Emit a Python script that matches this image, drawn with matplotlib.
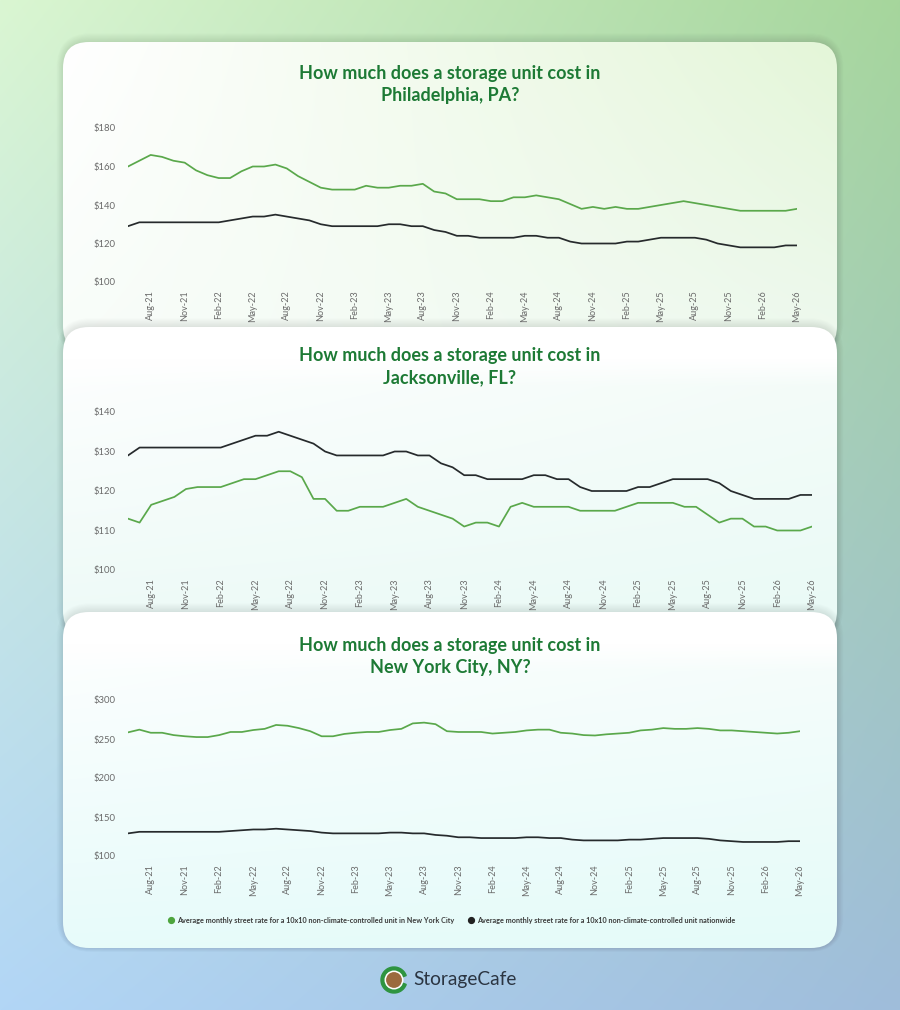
#!/usr/bin/env python3
"""
StorageCafe style panel: monthly street rate of a 10x10 non-climate-controlled
unit in three cities vs. the national average, Jun-21 .. May-26.
"""
import numpy as np
import matplotlib.pyplot as plt
from matplotlib.colors import to_rgb
from matplotlib.lines import Line2D
from matplotlib.patches import Circle, FancyBboxPatch, Wedge

# ---- data (monthly, Jun-21 .. May-26) ----
TICK_LABELS = ["Aug-21", "Nov-21", "Feb-22", "May-22", "Aug-22", "Nov-22", "Feb-23",
               "May-23", "Aug-23", "Nov-23", "Feb-24", "May-24", "Aug-24", "Nov-24",
               "Feb-25", "May-25", "Aug-25", "Nov-25", "Feb-26", "May-26"]

nationwide = [129, 131, 131, 131, 131, 131, 131, 131, 131,
              132, 133, 134, 134, 135, 134, 133, 132, 130, 129,
              129, 129, 129, 129, 130, 130, 129, 129, 127, 126, 124, 124,
              123, 123, 123, 123, 124, 124, 123, 123, 121, 120, 120, 120,
              120, 121, 121, 122, 123, 123, 123, 123, 122, 120, 119, 118,
              118, 118, 118, 119, 119]

philadelphia = [160, 163, 166, 165, 163, 162, 158,
                155.5, 154, 154, 157.5, 160, 160, 161, 159, 155, 152, 149, 148,
                148, 148, 150, 149, 149, 150, 150, 151, 147, 146, 143, 143,
                143, 142, 142, 144, 144, 145, 144, 143, 140.5, 138, 139, 138,
                139, 138, 138, 139, 140, 141, 142, 141, 140, 139, 138, 137,
                137, 137, 137, 137, 138]

jacksonville = [113, 112, 116.5, 117.5, 118.5, 120.5, 121,
                121, 121, 122, 123, 123, 124, 125, 125, 123.5, 118, 118, 115,
                115, 116, 116, 116, 117, 118, 116, 115, 114, 113, 111, 112,
                112, 111, 116, 117, 116, 116, 116, 116, 115, 115, 115, 115,
                116, 117, 117, 117, 117, 116, 116, 114, 112, 113, 113, 111,
                111, 110, 110, 110, 111]

new_york = [258.5, 262, 258, 258, 255, 253.5, 252.5,
            252.5, 255, 259, 259, 261.5, 263, 268, 267, 264, 260, 253.5, 253.5,
            256.5, 258, 259, 259, 261.5, 263, 270, 271, 269, 260, 259, 259,
            259, 257, 258, 259, 261, 262, 262, 258, 257, 255, 254.5, 256,
            257, 258, 261, 262, 264, 263, 263, 264, 263, 261, 261, 260,
            259, 258, 257, 258, 260]

PANELS = [
    ("Philadelphia, PA?", philadelphia, [100, 120, 140, 160, 180]),
    ("Jacksonville, FL?", jacksonville, [100, 110, 120, 130, 140]),
    ("New York City, NY?", new_york, [100, 150, 200, 250, 300]),
]

# ---- style ----
W, H = 900, 1010
GREEN_LINE = "#5aa84b"
BLACK_LINE = "#262a2c"
TITLE_GREEN = "#1d7a35"
TICK_GRAY = "#6a6a6a"
FONT = ["Lato", "DejaVu Sans"]

# pixel boxes: (x0, x1, y_top, y_bottom) of each plot area
AX_BOXES = [(128, 797, 128, 282), (128, 812, 412, 570), (128, 800, 700, 856)]
TITLE_Y = [(73, 95), (355, 378), (646, 668)]
CARDS = [  # x, y_top, height, corner colours TL, TR, BL, BR, white top band
    (63, 42, 310, ("#ffffff", "#e4f6d8", "#f8fdf9", "#eef9ef"), 0),
    (63, 327, 310, ("#ffffff", "#f6fcf9", "#edfaf7", "#e9faf6"), 45),
    (63, 612, 336, ("#ffffff", "#f8fdfb", "#e7fbfa", "#e5fbf9"), 45),
]


def bilinear(h, w, tl, tr, bl, br):
    tl, tr, bl, br = (np.array(to_rgb(c)) for c in (tl, tr, bl, br))
    u = np.linspace(0, 1, w)[None, :, None]
    v = np.linspace(0, 1, h)[:, None, None]
    top = tl * (1 - u) + tr * u
    bot = bl * (1 - u) + br * u
    return top * (1 - v) + bot * v


def draw_card(bg, x, y, h, colors, band):
    w = 900 - 2 * x
    # soft shadow
    for i in range(1, 9):
        sh = FancyBboxPatch((x - i * 0.8, y - i * 1.1), w + i * 1.6, h + i * 1.6,
                            boxstyle="round,pad=0,rounding_size=%d" % (26 + i),
                            fc="black", ec="none", alpha=0.012)
        bg.add_patch(sh)
    card = FancyBboxPatch((x, y), w, h, boxstyle="round,pad=0,rounding_size=26",
                          fc="none", ec="none")
    bg.add_patch(card)
    img = bilinear(int(h), int(w), *colors)
    if band:
        fade = np.clip((np.arange(int(h)) - band * 0.7) / (band * 0.6), 0, 1)[:, None, None]
        img = 1.0 * (1 - fade) + img * fade
    im = bg.imshow(img, extent=(x, x + w, y + h, y), aspect="auto", zorder=1)
    im.set_clip_path(card)
    card.set_zorder(1)


fig = plt.figure(figsize=(W / 100, H / 100), dpi=100)

bg = fig.add_axes([0, 0, 1, 1], zorder=-10)
bg.set_xlim(0, W)
bg.set_ylim(H, 0)
bg.axis("off")
bg.imshow(bilinear(H, W, "#daf6d2", "#a6d69c", "#b2d6f6", "#9fbddb"),
          extent=(0, W, H, 0), aspect="auto", zorder=0)

for x, y, h, colors, band in CARDS:
    draw_card(bg, x, y, h, colors, band)

x_idx = np.arange(len(nationwide))
tick_pos = np.arange(2, len(nationwide), 3)

axes = []
for (city, series, yticks), (x0, x1, yt, yb), (t1, t2) in zip(PANELS, AX_BOXES, TITLE_Y):
    ax = fig.add_axes([x0 / W, 1 - yb / H, (x1 - x0) / W, (yb - yt) / H])
    ax.patch.set_alpha(0)
    ax.plot(x_idx, series, color=GREEN_LINE, lw=1.25, solid_joinstyle="round")
    ax.plot(x_idx, nationwide, color=BLACK_LINE, lw=1.25, solid_joinstyle="round")
    ax.set_xlim(0, len(nationwide) - 1)
    ax.set_ylim(yticks[0], yticks[-1])
    ax.set_yticks(yticks)
    ax.set_yticklabels([f"${v}" for v in yticks], fontsize=6.8, color=TICK_GRAY,
                       family=FONT)
    ax.set_xticks(tick_pos)
    ax.set_xticklabels(TICK_LABELS, rotation=90, fontsize=6.5, color=TICK_GRAY,
                       family=FONT)
    ax.tick_params(axis="y", length=0, pad=9)
    ax.tick_params(axis="x", length=0, pad=6)
    for s in ax.spines.values():
        s.set_visible(False)

    fig.text(450 / W, 1 - t1 / H, "How much does a storage unit cost in",
             ha="center", va="center", fontsize=13, fontweight="bold",
             color=TITLE_GREEN, family=FONT)
    fig.text(450 / W, 1 - t2 / H, city, ha="center", va="center", fontsize=13,
             fontweight="bold", color=TITLE_GREEN, family=FONT)
    axes.append(ax)

handles = [
    Line2D([], [], ls="none", marker="o", ms=4.2, color="#4ea53e",
           label="Average monthly street rate for a 10x10 non-climate-controlled unit in New York City"),
    Line2D([], [], ls="none", marker="o", ms=4.2, color="#222222",
           label="Average monthly street rate for a 10x10 non-climate-controlled unit nationwide"),
]
leg = axes[-1].legend(handles=handles, loc="center", ncol=2, frameon=False,
                      bbox_to_anchor=(452 / W, 1 - 920 / H), bbox_transform=fig.transFigure,
                      prop={"family": FONT, "size": 5.2, "weight": "bold"},
                      handlelength=0.6, handletextpad=0.5, columnspacing=2.0)
for t in leg.get_texts():
    t.set_color("#3a3a3a")

# logo
bg.add_patch(Wedge((394, 980), 13, 20, 340, width=4.2, color="#2e9440", zorder=5))
bg.add_patch(Circle((394, 980), 8.8, color="white", zorder=5))
bg.add_patch(Circle((394, 980), 7.2, color="#9b6a3e", zorder=6))
bg.text(413, 980, "StorageCafe", ha="left", va="center", fontsize=13.8,
        color="#2b3542", family=FONT, zorder=6)

fig.savefig("out.png", dpi=100)
